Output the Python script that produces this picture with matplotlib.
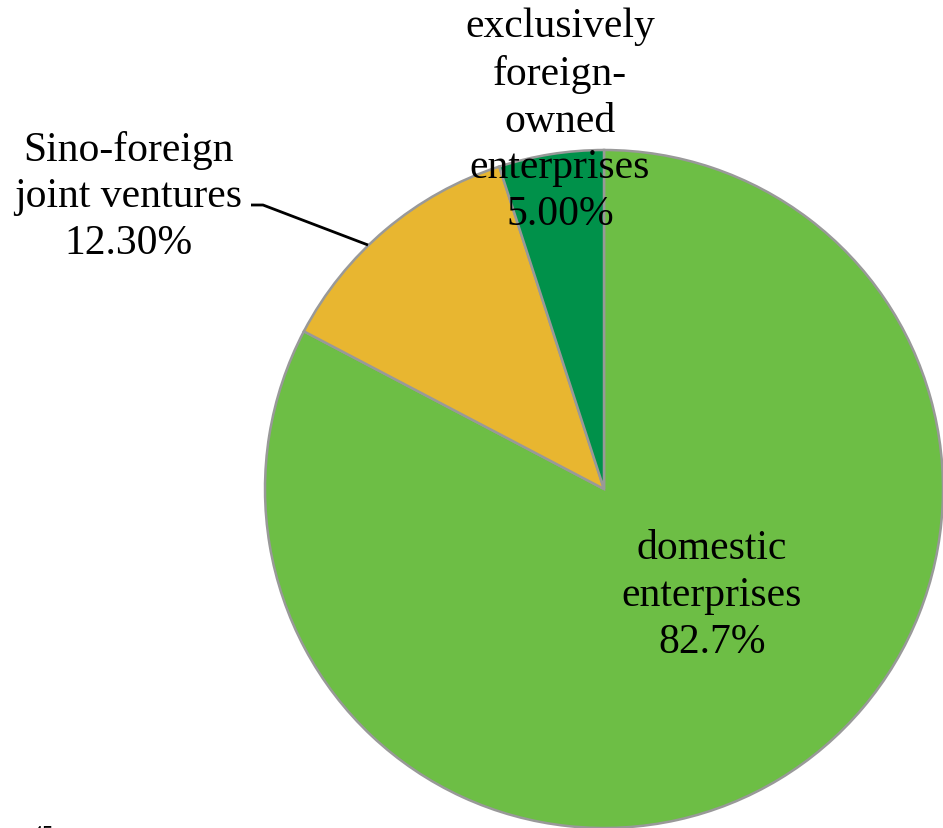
import matplotlib.pyplot as plt

plt.rcParams['font.family'] = ['Liberation Serif', 'DejaVu Serif']

categories = ['domestic\nenterprises', 'Sino-foreign\njoint ventures', 'exclusively\nforeign-\nowned\nenterprises']
shares = [82.7, 12.3, 5.0]
share_text = ['82.7%', '12.30%', '5.00%']
colors = ['#6dbe45', '#e8b630', '#00914a']

W, H = 943, 829
fig = plt.figure(figsize=(W / 100, H / 100), dpi=100)
ax = fig.add_axes([0, 0, 1, 1])

# pie centre and radius in pixel units (y measured from the bottom)
cx, cy, r = 604, H - 490, 339
ax.pie(shares, colors=colors, startangle=90, counterclock=False,
       center=(cx, cy), radius=r, frame=True,
       wedgeprops=dict(edgecolor='#999999', linewidth=1.8))
ax.set_xlim(0, W)
ax.set_ylim(0, H)
ax.set_aspect('equal')
ax.axis('off')

fs = 30
ls = 1.28
# data labels
ax.text(712, H - 596, categories[0] + '\n' + share_text[0], ha='center', va='center',
        fontsize=fs, linespacing=ls)
ax.text(128, H - 197, categories[1] + '\n' + share_text[1], ha='center', va='center',
        fontsize=fs, linespacing=ls)
ax.text(560, H - 121, categories[2] + '\n' + share_text[2], ha='center', va='center',
        fontsize=fs, linespacing=ls)

# leader line for the joint-venture label
ax.plot([251, 263, 368], [H - 206, H - 206, H - 246], color='black', lw=2,
        solid_capstyle='butt')

# page number peeking in at the bottom edge
ax.text(43, H - 826, '45', ha='center', va='top', fontsize=16)

fig.savefig('out.png', dpi=100)
